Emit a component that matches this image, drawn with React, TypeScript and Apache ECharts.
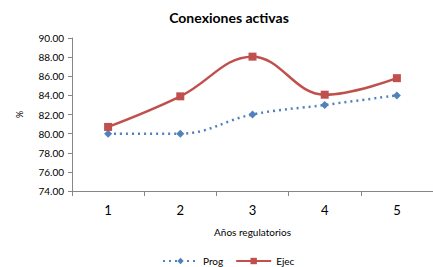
import React, { useEffect, useRef } from "react";
import * as echarts from "echarts";

const categories = ["1", "2", "3", "4", "5"];
const progValues = [80, 80, 82, 83, 84];
const ejecValues = [80.7, 83.9, 88.05, 84.07, 85.8];
const seriesNames = ["Prog", "Ejec"];

const FONT = "Lato, 'Open Sans', sans-serif";

export default function App() {
  const ref = useRef<HTMLDivElement>(null);
  useEffect(() => {
    if (!ref.current) return;
    const chart = echarts.init(ref.current, null, { renderer: "svg" });
    chart.setOption({
      animation: false,
      backgroundColor: "#ffffff",
      textStyle: { fontFamily: FONT },
      title: {
        text: "Conexiones activas",
        left: 224,
        textAlign: "center",
        top: 5,
        textStyle: { fontSize: 14, fontWeight: "bold", color: "#000", fontFamily: FONT },
      },
      legend: {
        top: 256,
        left: 162,
        padding: 0,
        itemWidth: 35,
        itemHeight: 8,
        itemGap: 12,
        textStyle: { fontSize: 10, color: "#000", fontFamily: FONT },
        data: seriesNames,
      },
      grid: { left: 72, right: -2, top: 38, bottom: 76 },
      xAxis: {
        type: "category",
        data: categories,
        boundaryGap: true,
        name: "Años regulatorios",
        nameLocation: "middle",
        nameGap: 36,
        nameTextStyle: { fontSize: 10, color: "#000", fontFamily: FONT },
        axisLine: { lineStyle: { color: "#868686", width: 1 } },
        axisTick: { show: true, length: 5, lineStyle: { color: "#868686" } },
        axisLabel: { fontSize: 13, color: "#000", margin: 12, fontFamily: FONT },
        splitLine: { show: false },
      },
      yAxis: {
        type: "value",
        min: 74,
        max: 90,
        interval: 2,
        name: "%",
        nameLocation: "middle",
        nameGap: 48,
        nameRotate: 90,
        nameTextStyle: { fontSize: 9, color: "#000", fontFamily: FONT },
        axisLine: { show: true, lineStyle: { color: "#868686", width: 1 } },
        axisTick: { show: true, length: 4, lineStyle: { color: "#868686" } },
        axisLabel: {
          fontSize: 10,
          color: "#000",
          margin: 8,
          fontFamily: FONT,
          formatter: (v: number) => v.toFixed(2),
        },
        splitLine: { show: false },
      },
      series: [
        {
          name: seriesNames[0],
          type: "line",
          data: progValues,
          smooth: 0.4,
          symbol: "diamond",
          symbolSize: 8,
          itemStyle: { color: "#4F81BD" },
          lineStyle: { color: "#4F81BD", width: 2.5, type: [2, 4] },
        },
        {
          name: seriesNames[1],
          type: "line",
          data: ejecValues,
          smooth: 0.4,
          symbol: "rect",
          symbolSize: 8,
          itemStyle: { color: "#C0504D" },
          lineStyle: { color: "#C0504D", width: 2.5 },
        },
      ],
    });
    return () => chart.dispose();
  }, []);
  return (
    <div
      ref={ref}
      style={{ position: "fixed", left: 0, top: 0, width: 433, height: 267 }}
    />
  );
}
